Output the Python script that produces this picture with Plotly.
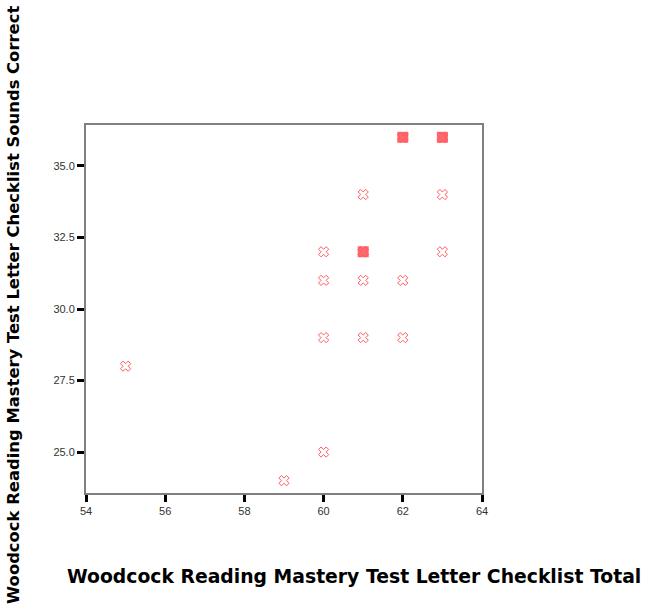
import plotly.graph_objects as go
from collections import Counter

letter_total = [55, 59, 60, 60, 60, 60, 61, 61, 61, 61, 61, 62, 62, 62, 62, 63, 63, 63, 63]
sounds_correct = [28, 24, 25, 29, 31, 32, 29, 31, 32, 32, 34, 29, 31, 36, 36, 32, 34, 36, 36]

x_ticks = [54, 56, 58, 60, 62, 64]
y_ticks = [25.0, 27.5, 30.0, 32.5, 35.0]
y_tick_text = ["25.0", "27.5", "30.0", "32.5", "35.0"]

x_title = "Woodcock Reading Mastery Test Letter Checklist Total"
y_title = "Woodcock Reading Mastery Test Letter Checklist Sounds Correct"

counts = Counter(zip(letter_total, sounds_correct))
dup_x = [p[0] for p, c in counts.items() if c > 1]
dup_y = [p[1] for p, c in counts.items() if c > 1]

red = "#ff5a5f"

fig = go.Figure()
fig.add_trace(go.Scatter(
    x=dup_x, y=dup_y, mode="markers",
    marker=dict(symbol="square", size=11, color="rgba(255,80,85,0.85)",
                line=dict(width=0)),
    hoverinfo="skip", showlegend=False))
fig.add_trace(go.Scatter(
    x=letter_total, y=sounds_correct, mode="markers",
    marker=dict(symbol="x-open", size=9, color=red,
                line=dict(color=red, width=1)),
    showlegend=False))

axis_common = dict(
    showgrid=False, zeroline=False, showline=True, linecolor="#808080",
    linewidth=2, mirror=True, ticks="outside", tickcolor="black",
    tickwidth=3, ticklen=7,
    tickfont=dict(family="Liberation Sans Narrow, Liberation Sans, Arial",
                  size=11, color="#333333"),
)

fig.update_layout(
    width=652, height=612,
    margin=dict(l=86, r=170, t=125, b=119),
    paper_bgcolor="white", plot_bgcolor="white",
    xaxis=dict(range=[54, 64], tickvals=x_ticks, **axis_common),
    yaxis=dict(range=[23.57, 36.43], tickvals=y_ticks, ticktext=y_tick_text,
               **axis_common),
    annotations=[
        dict(text=x_title, xref="paper", yref="paper", x=0.678, y=-0.228,
             showarrow=False, xanchor="center", yanchor="middle",
             font=dict(family="DejaVu Sans", size=18.8, color="black",
                       weight="bold")),
        dict(text=y_title, xref="paper", yref="paper", x=-0.182, y=0.511,
             showarrow=False, xanchor="center", yanchor="middle", textangle=-90,
             font=dict(family="DejaVu Sans", size=16.4, color="black",
                       weight="bold")),
    ],
)

fig.write_html("out.html")
